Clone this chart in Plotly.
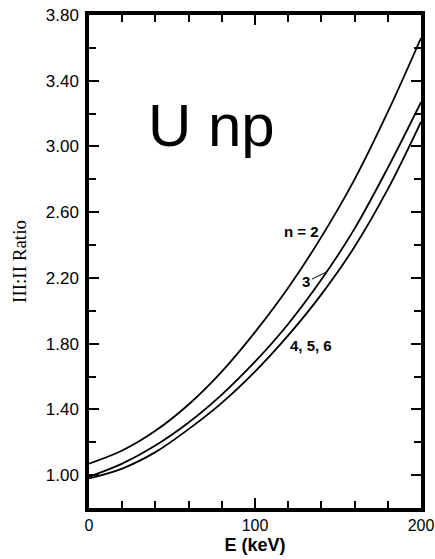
import numpy as np
import plotly.graph_objects as go

# Energy grid (keV) and III:II intensity ratio for each principal quantum number n
energy_kev = [0, 20, 40, 60, 80, 100, 120, 140, 160, 180, 200]
ratio_n2 = [1.07, 1.15, 1.27, 1.43, 1.63, 1.87, 2.14, 2.45, 2.80, 3.21, 3.66]
ratio_n3 = [0.99, 1.07, 1.18, 1.32, 1.49, 1.69, 1.92, 2.19, 2.50, 2.87, 3.27]
ratio_n456 = [0.98, 1.04, 1.14, 1.28, 1.44, 1.63, 1.85, 2.10, 2.39, 2.74, 3.15]

y_ticks = [1.00, 1.40, 1.80, 2.20, 2.60, 3.00, 3.40, 3.80]
x_ticks = [0, 100, 200]

SANS = "Liberation Sans, Arial, Helvetica, sans-serif"
SERIF = "Liberation Serif, Times New Roman, serif"

fig = go.Figure()
for series in (ratio_n2, ratio_n3, ratio_n456):
    fig.add_trace(go.Scatter(
        x=energy_kev, y=series, mode="lines",
        line=dict(color="black", width=1.8, shape="spline", smoothing=1.0),
        showlegend=False, hoverinfo="skip",
    ))

axis_common = dict(
    showline=True, linecolor="black", linewidth=3.5, mirror="ticks",
    ticks="inside", ticklen=10, tickwidth=2, tickcolor="black",
    showgrid=False, zeroline=False, automargin=False,
)

fig.update_xaxes(
    range=[0, 200], tickvals=x_ticks, ticktext=[str(v) for v in x_ticks],
    tickfont=dict(family=SANS, size=16, color="black"),
    minor=dict(dtick=20, ticks="inside", ticklen=7, tickwidth=1.5, tickcolor="black"),
    title=dict(text="<b>E (keV)</b>", font=dict(family=SANS, size=18, color="black"), standoff=6),
    **axis_common,
)
fig.update_yaxes(
    range=[0.80, 3.80], tickvals=y_ticks, ticktext=[f"{v:.2f}" for v in y_ticks],
    tickfont=dict(family=SANS, size=17, color="black"),
    minor=dict(dtick=0.2, tick0=0.8, ticks="inside", ticklen=7, tickwidth=1.5, tickcolor="black"),
    title=dict(text="III:II Ratio", font=dict(family=SERIF, size=19, color="black"), standoff=15),
    ticklabelstandoff=3,
    **axis_common,
)

# Curve labels
fig.add_annotation(x=74, y=3.13, xref="x", yref="y", text="U np", showarrow=False,
                   font=dict(family=SANS, size=60, color="black"))
fig.add_annotation(x=128, y=2.48, text="<b>n = 2</b>", showarrow=False,
                   font=dict(family=SANS, size=15, color="black"))
x3 = 143
fig.add_annotation(x=x3, y=float(np.interp(x3, energy_kev, ratio_n3)), text="<b>3</b>",
                   showarrow=True, arrowhead=0, arrowwidth=1, arrowcolor="black",
                   ax=-20, ay=10, standoff=0,
                   font=dict(family=SANS, size=15, color="black"))
fig.add_annotation(x=134, y=1.79, text="<b>4, 5, 6</b>", showarrow=False,
                   font=dict(family=SANS, size=15, color="black"))

fig.update_layout(
    width=435, height=559,
    margin=dict(l=89, r=14, t=15, b=51, autoexpand=False),
    paper_bgcolor="white", plot_bgcolor="white",
)

fig.write_html("out.html")
